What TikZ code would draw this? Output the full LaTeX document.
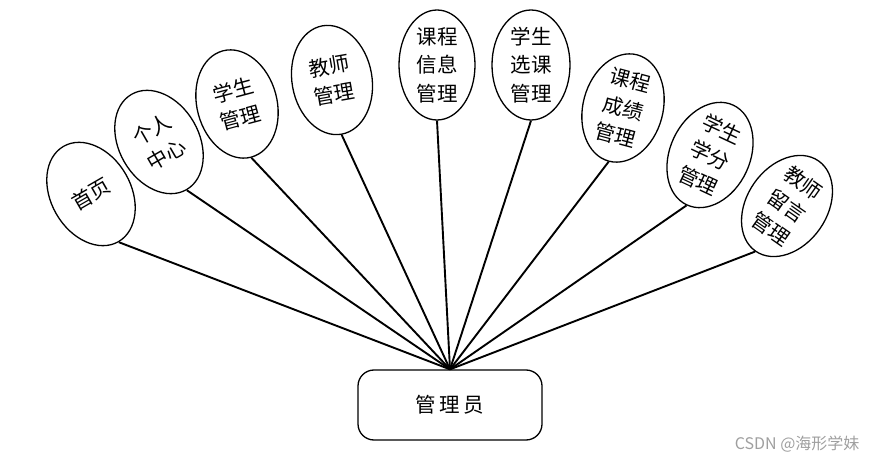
\documentclass[tikz,border=0pt]{standalone}
\usepackage{fontspec}
\newfontfamily\cjk{Noto Sans CJK SC}
\usetikzlibrary{shapes.geometric}
\begin{document}
\begin{tikzpicture}[x=1pt,y=-1pt,
  ell/.style={draw, ellipse, line width=1.3pt, minimum width=80pt, minimum height=110pt, inner sep=0pt, fill=white},
  lbl/.style={font=\cjk\fontsize{20.5}{28.5}\selectfont, align=center, inner sep=0pt},
  link/.style={line width=1.9pt}]
\useasboundingbox (0,0) rectangle (878,462);
\node[draw, rounded corners=16pt, line width=1.3pt, minimum width=184pt, minimum height=70pt,
      font=\cjk\fontsize{20.5}{24}\selectfont] (admin) at (450,405) {管\,理\,员};
% ellipses
\node[ell, rotate=30] (e1) at (91,194) {};
\node[lbl, rotate=30] at (e1) {首页};
\node[ell, rotate=30] (e2) at (159,142) {};
\node[lbl, rotate=30] at (e2) {个人\\中心};
\node[ell, rotate=15] (e3) at (237,104) {};
\node[lbl, rotate=15] at (e3) {学生\\管理};
\node[ell, rotate=10] (e4) at (332,80) {};
\node[lbl, rotate=10] at (e4) {教师\\管理};
\node[ell, minimum width=76pt] (e5) at (437,65) {};
\node[lbl] at (e5) {课程\\信息\\管理};
\node[ell, minimum width=78pt] (e6) at (531,65) {};
\node[lbl] at (e6) {学生\\选课\\管理};
\node[ell, rotate=-15] (e7) at (623,108) {};
\node[lbl, rotate=-15] at (e7) {课程\\成绩\\管理};
\node[ell, rotate=-25] (e8) at (710,155) {};
\node[lbl, rotate=-25] at (e8) {学生\\学分\\管理};
\node[ell, rotate=-35] (e9) at (787,206) {};
\node[lbl, rotate=-35] at (e9) {教师\\留言\\管理};
% links
\foreach \i in {1,...,9} \draw[link] (admin.north) -- (e\i.south);
\node[font=\cjk\fontsize{16}{16}\selectfont, text=gray!75, anchor=east] (wm) at (863,444) {CSDN @海形学妹};
\end{tikzpicture}
\end{document}
